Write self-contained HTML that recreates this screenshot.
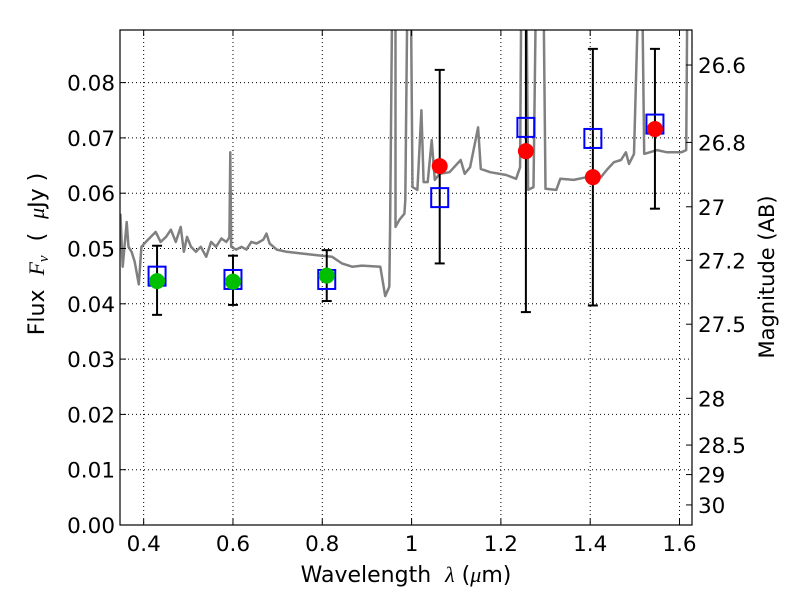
<!DOCTYPE html>
<html><head><meta charset="utf-8"><style>
body{margin:0;background:#fff}
svg text{font-family:"DejaVu Sans","Liberation Sans",sans-serif;fill:#000}
</style></head><body>
<svg id="chart" width="800" height="600" xmlns="http://www.w3.org/2000/svg">
<rect width="800" height="600" fill="#fff"/>
<g id="grid"></g>
<g id="spec"></g>
<g id="marks"></g>
<rect x="120" y="30" width="572" height="495" fill="none" stroke="#000" stroke-width="1.2"/>
<g id="axes"></g>
<text x="406" y="582" font-size="22" text-anchor="middle" style="white-space:pre">Wavelength&#160;&#160;<tspan font-family="Liberation Serif" font-style="italic">λ</tspan>&#160;(<tspan font-family="Liberation Serif" font-style="italic">μ</tspan>m)</text>
<text transform="translate(44,254) rotate(-90)" font-size="22" text-anchor="middle" style="white-space:pre">Flux&#160;&#160;<tspan font-family="Liberation Serif" font-style="italic">F</tspan><tspan font-family="Liberation Serif" font-style="italic" font-size="15" dy="4">ν</tspan><tspan dy="-4">&#160;&#160;(&#160;&#160;</tspan><tspan font-family="Liberation Serif" font-style="italic">μ</tspan>Jy&#160;)</text>
<text transform="translate(774,277) rotate(-90)" font-size="21" text-anchor="middle">Magnitude (AB)</text>
</svg>
<script>
const specLam=[0.348,0.353,0.362,0.366,0.373,0.380,0.389,0.395,0.405,0.416,0.427,0.438,0.450,0.461,0.472,0.483,0.490,0.497,0.506,0.517,0.528,0.540,0.551,0.562,0.574,0.585,0.592,0.594,0.596,0.607,0.619,0.630,0.641,0.653,0.668,0.675,0.682,0.698,0.720,0.754,0.799,0.822,0.844,0.867,0.889,0.930,0.941,0.950,0.952,0.957,0.964,0.964,0.973,0.984,0.986,0.991,0.998,1.002,1.013,1.022,1.027,1.036,1.045,1.052,1.063,1.085,1.110,1.119,1.131,1.149,1.155,1.176,1.212,1.234,1.243,1.246,1.257,1.261,1.273,1.279,1.295,1.300,1.324,1.333,1.363,1.392,1.424,1.437,1.453,1.469,1.480,1.487,1.498,1.509,1.516,1.521,1.550,1.572,1.604,1.615,1.618,1.629,1.638];
const specFlux=[0.0563,0.0467,0.0548,0.0503,0.0494,0.0476,0.0435,0.0503,0.0512,0.0521,0.0530,0.0512,0.0521,0.0534,0.0512,0.0539,0.0494,0.0521,0.0503,0.0494,0.0503,0.0485,0.0512,0.0503,0.0518,0.0512,0.0520,0.0674,0.0503,0.0498,0.0503,0.0498,0.0512,0.0509,0.0516,0.0527,0.0509,0.0498,0.0494,0.0491,0.0487,0.0485,0.0473,0.0467,0.0469,0.0467,0.0414,0.0431,0.0539,0.1,0.1,0.0539,0.0552,0.0563,0.0588,0.1,0.1,0.0611,0.0606,0.0750,0.0620,0.0620,0.0696,0.0624,0.0635,0.0638,0.0660,0.0635,0.0647,0.0719,0.0644,0.0638,0.0633,0.0626,0.0647,0.1,0.1,0.0606,0.0611,0.1,0.1,0.0608,0.0606,0.0626,0.0624,0.0629,0.0629,0.0642,0.0656,0.0660,0.0674,0.0653,0.0671,0.1,0.1,0.0671,0.0678,0.0674,0.0674,0.0678,0.1,0.1,0.0863];
const greenLam=[0.430,0.600,0.810];
const greenFlux=[0.0441,0.0440,0.0451];
const greenLo=[0.0380,0.0398,0.0405];
const greenHi=[0.0505,0.0487,0.0497];
const redLam=[1.063,1.256,1.406,1.545];
const redFlux=[0.0649,0.0676,0.0629,0.0716];
const redLo=[0.0473,0.0385,0.0397,0.0572];
const redHi=[0.0823,0.0970,0.0861,0.0861];
const modelLam=[0.430,0.600,0.810,1.063,1.256,1.406,1.545];
const modelFlux=[0.0450,0.0444,0.0444,0.0592,0.0719,0.0699,0.0725];
const xTicks=[0.4,0.6,0.8,1.0,1.2,1.4,1.6];
const xTickLabels=["0.4","0.6","0.8","1","1.2","1.4","1.6"];
const yTicks=[0,0.01,0.02,0.03,0.04,0.05,0.06,0.07,0.08];
const yTickLabels=["0.00","0.01","0.02","0.03","0.04","0.05","0.06","0.07","0.08"];
const magTicks=[26.6,26.8,27,27.2,27.5,28,28.5,29,30];
const magTickLabels=["26.6","26.8","27","27.2","27.5","28","28.5","29","30"];

const NS="http://www.w3.org/2000/svg";
const X0=120,X1=692,Y0=30,Y1=525,LMIN=0.347,LMAX=1.628,FMIN=0,FMAX=(525-30)/5530;
const sx=l=>X0+(l-LMIN)/(LMAX-LMIN)*(X1-X0);
const sy=f=>Y1-(f-FMIN)/(FMAX-FMIN)*(Y1-Y0);
function mk(tag,attrs,parent){const e=document.createElementNS(NS,tag);for(const k in attrs)e.setAttribute(k,attrs[k]);parent.appendChild(e);return e;}
const grid=document.getElementById('grid'),axes=document.getElementById('axes'),spec=document.getElementById('spec'),marks=document.getElementById('marks');
const defs=mk('defs',{},document.getElementById('chart'));
const cp=mk('clipPath',{id:'cp'},defs);mk('rect',{x:X0,y:Y0,width:X1-X0,height:Y1-Y0},cp);
spec.setAttribute('clip-path','url(#cp)');marks.setAttribute('clip-path','url(#cp)');
xTicks.forEach((t,i)=>{const x=sx(t);
 let g=mk('line',{x1:x,x2:x,y1:Y0,y2:Y1,stroke:'#000','stroke-dasharray':'1,3','stroke-width':1},grid);
 
 let a=mk('line',{x1:x,x2:x,y1:Y1,y2:Y1-6,stroke:'#000'},axes);
 let b=mk('line',{x1:x,x2:x,y1:Y0,y2:Y0+6,stroke:'#000'},axes);
 let tx=mk('text',{x:x,y:Y1+26,'font-size':21.5,'text-anchor':'middle'},axes);tx.textContent=xTickLabels[i];
 });
yTicks.forEach((t,i)=>{const y=sy(t);
 let g=mk('line',{x1:X0,x2:X1,y1:y,y2:y,stroke:'#000','stroke-dasharray':'1,3','stroke-width':1},grid);
 
 let a=mk('line',{x1:X0,x2:X0+6,y1:y,y2:y,stroke:'#000'},axes);
 let tx=mk('text',{x:X0-5,y:y+8,'font-size':21.5,'text-anchor':'end'},axes);tx.textContent=yTickLabels[i];
 });
magTicks.forEach((m,i)=>{const f=Math.pow(10,(23.9-m)/2.5);const y=sy(f);
 let a=mk('line',{x1:X1-6,x2:X1,y1:y,y2:y,stroke:'#000'},axes);
 let tx=mk('text',{x:X1+6,y:y+8,'font-size':21.5,'text-anchor':'start'},axes);tx.textContent=magTickLabels[i];
 });
let d=specLam.map((l,i)=>(i?'L':'M')+sx(l).toFixed(1)+','+sy(specFlux[i]).toFixed(1)).join('');
const sp=mk('path',{d:d,fill:'none',stroke:'#808080','stroke-width':2.5,'stroke-linejoin':'round'},spec);

function errbar(l,lo,hi){const x=sx(l);
 let e=mk('line',{x1:x,x2:x,y1:sy(lo),y2:sy(hi),stroke:'#000','stroke-width':2},marks);
 [lo,hi].forEach(v=>{let c=mk('line',{x1:x-5,x2:x+5,y1:sy(v),y2:sy(v),stroke:'#000','stroke-width':2},marks);});}
greenLam.forEach((l,i)=>errbar(l,greenLo[i],greenHi[i]));
redLam.forEach((l,i)=>errbar(l,redLo[i],redHi[i]));
modelLam.forEach((l,i)=>{let r=mk('rect',{x:sx(l)-8.5,y:sy(modelFlux[i])-9.5,width:17,height:19,fill:'none',stroke:'#0000ff','stroke-width':2},marks);
 });
greenLam.forEach((l,i)=>{let c=mk('circle',{cx:sx(l),cy:sy(greenFlux[i]),r:8,fill:'#00bf00'},marks);
 });
redLam.forEach((l,i)=>{let c=mk('circle',{cx:sx(l),cy:sy(redFlux[i]),r:8,fill:'#ff0000'},marks);
 });
</script>
</body></html>
